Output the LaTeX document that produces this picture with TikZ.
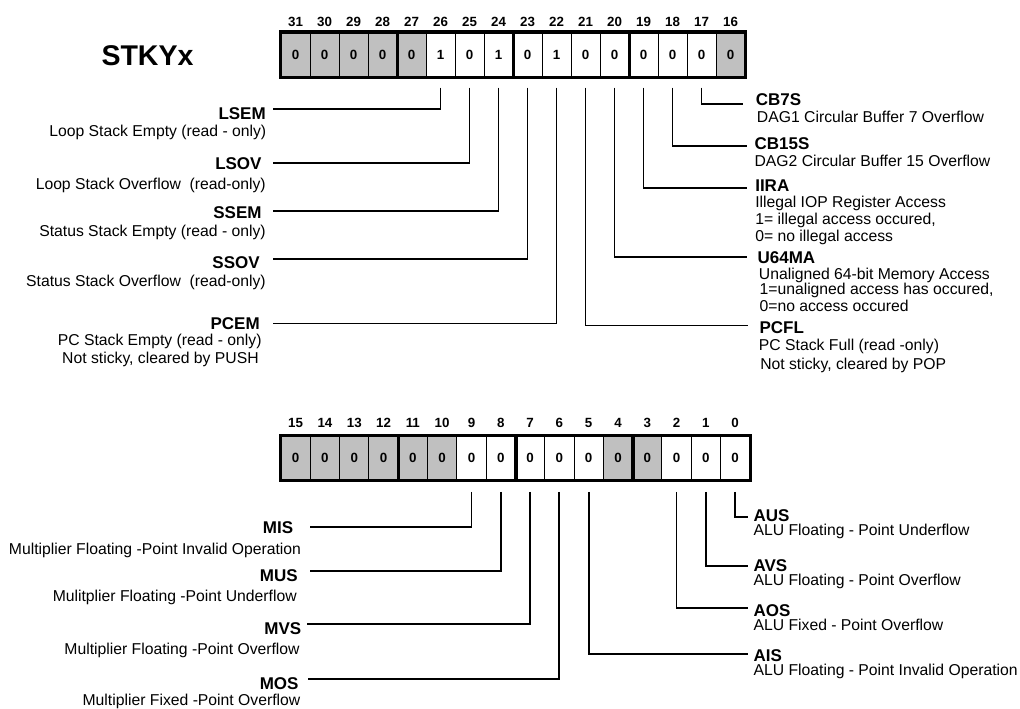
\documentclass[tikz,border=0pt]{standalone}
\usepackage{fontspec}
\setmainfont{Liberation Sans}
\usetikzlibrary{calc}
\definecolor{cellgrey}{RGB}{192,192,192}
\newcommand\lblfont{\fontsize{12.75pt}{15pt}\selectfont\bfseries}
\newcommand\dscfont{\fontsize{11.8pt}{14pt}\selectfont}
\newcommand\ttlfont{\fontsize{21.4pt}{25pt}\selectfont\bfseries}
\newcommand\bnfont{\fontsize{10pt}{12pt}\selectfont\bfseries}
\begin{document}
\begin{tikzpicture}[x=0.75pt,y=-0.75pt,
  topcell/.style={draw=black, line width=0.75pt, minimum width=21.75pt, minimum height=33.375pt, inner sep=0pt, font=\bnfont},
  botcell/.style={draw=black, line width=0.75pt, minimum width=21.975pt, minimum height=33.375pt, inner sep=0pt, font=\bnfont},
  bitno/.style={font=\bnfont, inner sep=0pt, anchor=base},
  ttl/.style={font=\ttlfont, inner sep=0pt, anchor=base},
  lblL/.style={font=\lblfont, inner sep=0pt, anchor=base east},
  lblR/.style={font=\lblfont, inner sep=0pt, anchor=base west},
  dscL/.style={font=\dscfont, inner sep=0pt, anchor=base east},
  dscR/.style={font=\dscfont, inner sep=0pt, anchor=base west},
  frame/.style={line width=2.5pt, draw=black},
  conn/.style={line width=1.3pt, draw=black}]
\useasboundingbox (0,0) rectangle (1020,708);

\node[ttl] (title) at (147.5,65) {STKYx};

% upper register
\foreach \b/\v/\f in {31/0/cellgrey,30/0/cellgrey,29/0/cellgrey,28/0/cellgrey,27/0/cellgrey,26/1/white,25/0/white,24/1/white,23/0/white,22/1/white,21/0/white,20/0/white,19/0/white,18/0/white,17/0/white,16/0/cellgrey}{
  \pgfmathsetmacro\xx{281+(31.5-\b)*29}
  \node[topcell, fill=\f] (t\b) at (\xx,54.75) {\v};
  \node[bitno] (n\b) at (\xx,26.5) {\b};
}
\draw[frame] (t31.north west) rectangle (t16.south east);
\draw[frame] (t28.north east) -- (t28.south east);
\draw[frame] (t24.north east) -- (t24.south east);
\draw[frame] (t20.north east) -- (t20.south east);

% lower register
\foreach \b/\f in {15/cellgrey,14/cellgrey,13/cellgrey,12/cellgrey,11/cellgrey,10/cellgrey,9/white,8/white,7/white,6/white,5/white,4/cellgrey,3/cellgrey,2/white,1/white,0/white}{
  \pgfmathsetmacro\xx{281+(15.5-\b)*29.3}
  \node[botcell, fill=\f] (b\b) at (\xx,458) {0};
  \node[bitno] (m\b) at (\xx,427.3) {\b};
}
\draw[frame] (b15.north west) rectangle (b0.south east);
\draw[frame] (b12.north east) -- (b12.south east);
\draw[frame] (b8.north east) -- (b8.south east);
\draw[frame] (b4.north east) -- (b4.south east);

% ---- upper left labels
\node[lblL] (LSEM) at (266,119.3) {LSEM};
\node[dscL] (LSEMd) at (266.5,136) {Loop Stack Empty (read - only)};
\node[lblL] (LSOV) at (261.8,169.3) {LSOV};
\node[dscL] (LSOVd) at (266,189) {Loop Stack Overflow\ \ (read-only)};
\node[lblL] (SSEM) at (261.8,218.3) {SSEM};
\node[dscL] (SSEMd) at (266,236) {Status Stack Empty (read - only)};
\node[lblL] (SSOV) at (260,268.7) {SSOV};
\node[dscL] (SSOVd) at (266,286.7) {Status Stack Overflow\ \ (read-only)};
\node[lblL] (PCEM) at (260,329.3) {PCEM};
\node[dscL] (PCEMd) at (261.8,345.7) {PC Stack Empty (read - only)};
\node[dscL] (PCEMe) at (258.9,363.3) {Not sticky, cleared by PUSH};

\coordinate (eLSEM) at (273.2,109.3);
\coordinate (eLSOV) at (273.2,163.3);
\coordinate (eSSEM) at (273.2,211);
\coordinate (eSSOV) at (273.2,259.3);
\coordinate (ePCEM) at (273.2,323.5);
\draw[conn] ($(t26.south)+(0,10)$) |- (eLSEM);
\draw[conn] ($(t25.south)+(0,10)$) |- (eLSOV);
\draw[conn] ($(t24.south)+(0,10)$) |- (eSSEM);
\draw[conn] ($(t23.south)+(0,10)$) |- (eSSOV);
\draw[conn] ($(t22.south)+(0,10)$) |- (ePCEM);

% ---- upper right labels
\node[lblR] (CB7S) at (755.5,105) {CB7S};
\node[dscR] (CB7Sd) at (756.7,122.3) {DAG1 Circular Buffer 7 Overflow};
\node[lblR] (CB15S) at (754.3,149.3) {CB15S};
\node[dscR] (CB15Sd) at (754.3,166.7) {DAG2 Circular Buffer 15 Overflow};
\node[lblR] (IIRA) at (755,191.7) {IIRA};
\node[dscR] (IIRAd) at (755,207.3) {Illegal IOP Register Access};
\node[dscR] (IIRAe) at (755,224) {1= illegal access occured,};
\node[dscR] (IIRAf) at (755,241.7) {0= no illegal access};
\node[lblR] (U64MA) at (757.3,263.3) {U64MA};
\node[dscR] (U64MAd) at (758.7,279) {Unaligned 64-bit Memory Access};
\node[dscR] (U64MAe) at (759.3,294.3) {1=unaligned access has occured,};
\node[dscR] (U64MAf) at (759.3,311.7) {0=no access occured};
\node[lblR] (PCFL) at (759.3,333.7) {PCFL};
\node[dscR] (PCFLd) at (758.7,350) {PC Stack Full (read -only)};
\node[dscR] (PCFLe) at (760,369) {Not sticky, cleared by POP};

\coordinate (eCB7S) at (743,104);
\coordinate (eCB15S) at (747.3,145.7);
\coordinate (eIIRA) at (746.7,188.3);
\coordinate (eU64MA) at (746.7,256.7);
\coordinate (ePCFL) at (748,325.5);
\draw[conn] ($(t17.south)+(0,10)$) |- (eCB7S);
\draw[conn] ($(t18.south)+(0,10)$) |- (eCB15S);
\draw[conn] ($(t19.south)+(0,10)$) |- (eIIRA);
\draw[conn] ($(t20.south)+(0,10)$) |- (eU64MA);
\draw[conn] ($(t21.south)+(0,10)$) |- (ePCFL);

% ---- lower left labels
\node[lblL] (MIS) at (293.4,533.3) {MIS};
\node[dscL] (MISd) at (301.3,554) {Multiplier Floating -Point Invalid Operation};
\node[lblL] (MUS) at (298,581) {MUS};
\node[dscL] (MUSd) at (297,601.7) {Mulitplier Floating -Point Underflow};
\node[lblL] (MVS) at (301.6,634.3) {MVS};
\node[dscL] (MVSd) at (299.9,654.3) {Multiplier Floating -Point Overflow};
\node[lblL] (MOS) at (298.8,689.3) {MOS};
\node[dscL] (MOSd) at (300.6,705.5) {Multiplier Fixed -Point Overflow};

\coordinate (eMIS) at (309.5,527.3);
\coordinate (eMUS) at (309.5,570.7);
\coordinate (eMVS) at (307,624);
\coordinate (eMOS) at (307.7,679.3);
\draw[conn] ($(b9.south)+(0,11)$) |- (eMIS);
\draw[conn] ($(b8.south)+(0,11)$) |- (eMUS);
\draw[conn] ($(b7.south)+(0,11)$) |- (eMVS);
\draw[conn] ($(b6.south)+(0,11)$) |- (eMOS);

% ---- lower right labels
\node[lblR] (AUS) at (753.3,521.7) {AUS};
\node[dscR] (AUSd) at (753.3,535.7) {ALU Floating - Point Underflow};
\node[lblR] (AVS) at (753.3,571.7) {AVS};
\node[dscR] (AVSd) at (753.3,585.7) {ALU Floating - Point Overflow};
\node[lblR] (AOS) at (753.3,616) {AOS};
\node[dscR] (AOSd) at (753.3,630) {ALU Fixed - Point Overflow};
\node[lblR] (AIS) at (753.3,661) {AIS};
\node[dscR] (AISd) at (753.3,675) {ALU Floating - Point Invalid Operation};

\coordinate (eAUS) at (748.3,516.7);
\coordinate (eAVS) at (748.3,565.7);
\coordinate (eAOS) at (748.3,608.3);
\coordinate (eAIS) at (748.3,654);
\draw[conn] ($(b0.south)+(0,11)$) |- (eAUS);
\draw[conn] ($(b1.south)+(0,11)$) |- (eAVS);
\draw[conn] ($(b2.south)+(0,11)$) |- (eAOS);
\draw[conn] ($(b5.south)+(0,11)$) |- (eAIS);
\end{tikzpicture}
\end{document}
